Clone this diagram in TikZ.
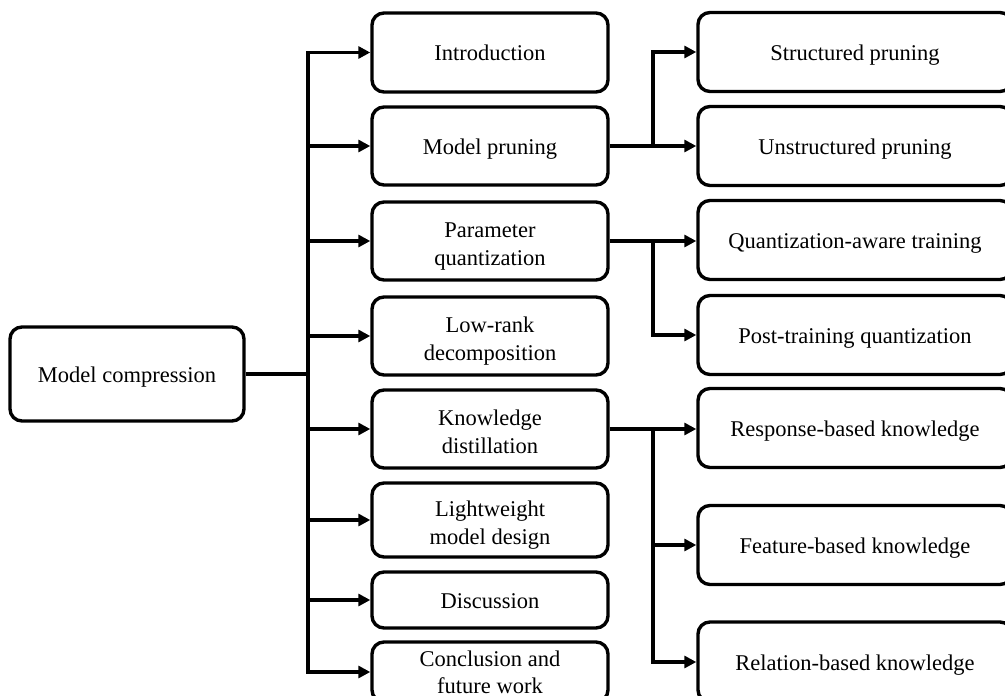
\documentclass[tikz,border=0pt]{standalone}
\usepackage{fontspec}
\setmainfont{Liberation Serif}
\usetikzlibrary{arrows.meta}
\newcommand{\fl}[1]{\rule{0pt}{#1}}
\begin{document}
\begin{tikzpicture}[x=1pt,y=-1pt,
  box/.style={draw, line width=3.4pt, rounded corners=12pt, align=center,
    font=\fontsize{22.5}{27.5}\selectfont, inner sep=0pt, fill=white,
    execute at begin node={\rule{0pt}{21pt}},
    execute at end node={\rule[-5pt]{0pt}{0pt}}},
  mid/.style={box, minimum width=236pt},
  rgt/.style={box, minimum width=314pt, minimum height=79pt},
  conn/.style={line width=3.4pt},
  arr/.style={conn, -{Triangle[length=12pt,width=12pt]}}]
\useasboundingbox (0,0) rectangle (1005,696);
% root
\node[box, minimum width=234pt, minimum height=94pt] (root) at (127,374) {Model compression};
% middle column
\node[mid, minimum height=79pt] (intro) at (490,52.5) {Introduction};
\node[mid, minimum height=78pt] (prune) at (490,146) {Model pruning};
\node[mid, minimum height=78pt] (quant) at (490,241) {\fl{26pt}Parameter\\quantization};
\node[mid, minimum height=78pt] (lowrank) at (490,336) {\fl{26pt}Low-rank\\decomposition};
\node[mid, minimum height=78pt] (kd) at (490,429) {\fl{26pt}Knowledge\\distillation};
\node[mid, minimum height=74pt] (light) at (490,520) {\fl{26pt}Lightweight\\model design};
\node[mid, minimum height=56pt] (disc) at (490,600) {Discussion};
\node[mid, minimum height=60pt] (concl) at (490,672) {\fl{21pt}Conclusion and\\future work};
% right column
\node[rgt] (sp) at (855,52) {Structured pruning};
\node[rgt] (up) at (855,146) {Unstructured pruning};
\node[rgt] (qat) at (855,240) {Quantization-aware training};
\node[rgt] (ptq) at (855,335) {Post-training quantization};
\node[rgt] (rbk) at (855,428) {Response-based knowledge};
\node[rgt] (fbk) at (855,545) {Feature-based knowledge};
\node[rgt, minimum height=80pt] (relk) at (855,662) {Relation-based knowledge};
% main bus
\coordinate (bus) at (308,374);
\coordinate (bustop) at (308,52.5);
\coordinate (busbot) at (308,672);
\draw[conn] (root.east) -- (bus);
\draw[conn, line cap=rect] (bustop) -- (busbot);
\foreach \n in {intro,prune,quant,lowrank,kd,light,disc,concl}
  \draw[arr] (\n.west -| bus) -- (\n.west);
% pruning
\coordinate (pb) at (653,146);
\draw[arr] (prune.east) -- (up.west);
\draw[arr] (pb) |- (sp.west);
% quantization
\coordinate (qb) at (653,241);
\draw[conn] (quant.east) -- (qb);
\draw[arr] (qb) -- (qb -| qat.west);
\draw[arr] (qb) |- (ptq.west);
% knowledge distillation
\coordinate (kb) at (653,429);
\draw[conn] (kd.east) -- (kb);
\draw[arr] (kb) -- (kb -| rbk.west);
\draw[arr] (kb) |- (fbk.west);
\draw[arr] (kb) |- (relk.west);
\end{tikzpicture}
\end{document}
